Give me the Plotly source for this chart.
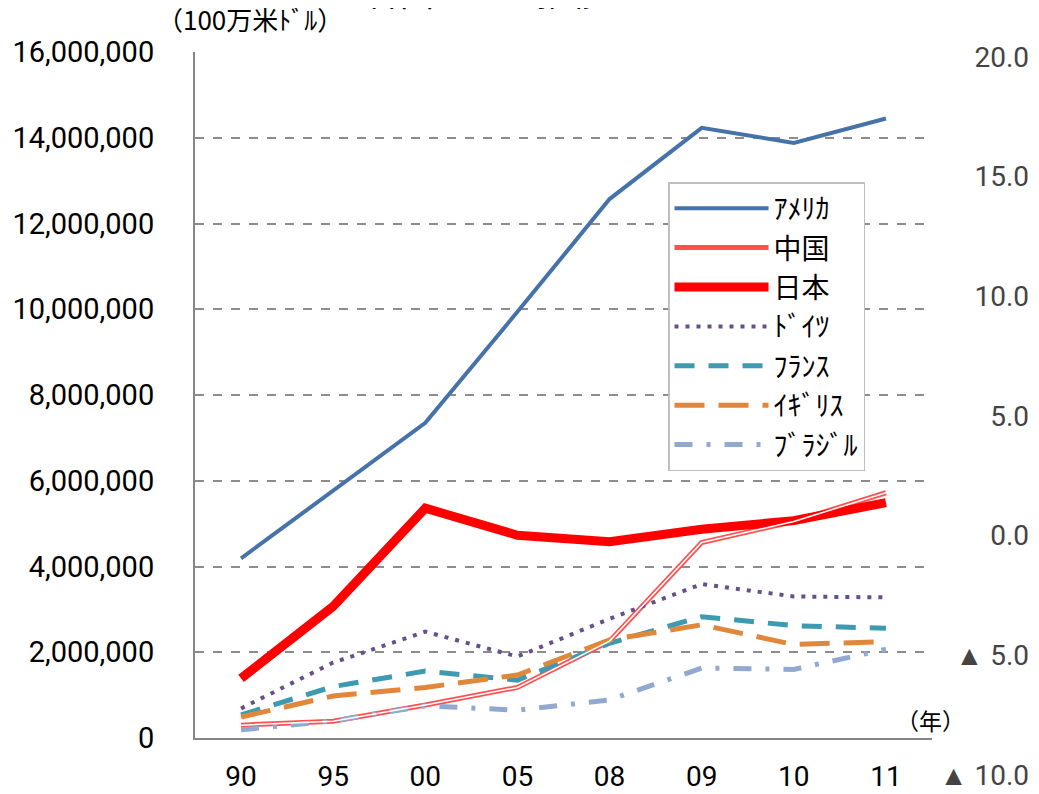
import plotly.graph_objects as go

years = ["90", "95", "00", "05", "08", "09", "10", "11"]
usa = [4190000, 5780000, 7350000, 9940000, 12570000, 14230000, 13880000, 14450000]
china = [300000, 390000, 770000, 1180000, 2260000, 4560000, 5050000, 5720000]
japan = [1390000, 3070000, 5360000, 4730000, 4580000, 4870000, 5070000, 5490000]
germany = [690000, 1760000, 2480000, 1900000, 2780000, 3590000, 3300000, 3280000]
france = [540000, 1200000, 1560000, 1350000, 2210000, 2830000, 2620000, 2560000]
uk = [490000, 980000, 1180000, 1470000, 2290000, 2640000, 2180000, 2250000]
brazil = [190000, 400000, 750000, 650000, 890000, 1630000, 1600000, 2070000]

right_vals = [20, 15, 10, 5, 0, -5, -10]
right_text = ["20.0", "15.0", "10.0", "5.0", "0.0", "▲ 5.0", "▲ 10.0"]

title_text = "各国GDPの推移"
unit_text = "（100万米ﾄﾞﾙ）"
year_text = "（年）"

# the page body adds an 8px offset; work in page pixels and convert
OFF = 8
W, H = 1039 - OFF, 794 - OFF
PL, PR, PT, PB = 195, 1032, 52, 775          # plot area in page pixels
L, T = PL - OFF, PT - OFF
R = W - (PR - OFF)
B = H - (PB - OFF)
pw = PR - PL
ph = PB - PT


def px(xp):
    return (xp - PL) / pw


def py(yp):
    return (PB - yp) / ph


fig = go.Figure()

fig.add_trace(go.Scatter(x=years, y=usa, name="ｱﾒﾘｶ", mode="lines",
                         line=dict(color="#4672AA", width=4)))
fig.add_trace(go.Scatter(x=years, y=china, name="中国", mode="lines",
                         line=dict(color="#FF5050", width=5)))
fig.add_trace(go.Scatter(x=years, y=japan, name="日本", mode="lines",
                         line=dict(color="#FF0000", width=9)))
fig.add_trace(go.Scatter(x=years, y=germany, name="ﾄﾞｲﾂ", mode="lines",
                         line=dict(color="#674F8A", width=4, dash="4px,7px")))
fig.add_trace(go.Scatter(x=years, y=france, name="ﾌﾗﾝｽ", mode="lines",
                         line=dict(color="#3E9AB0", width=5, dash="20px,14px")))
fig.add_trace(go.Scatter(x=years, y=uk, name="ｲｷﾞﾘｽ", mode="lines",
                         line=dict(color="#E0873B", width=5, dash="30px,14px")))
fig.add_trace(go.Scatter(x=years, y=brazil, name="ﾌﾞﾗｼﾞﾙ", mode="lines",
                         line=dict(color="#91A8D0", width=5, dash="18px,14px,4px,14px")))
# inner white stroke of China's double line
fig.add_trace(go.Scatter(x=years, y=china, name="中国", mode="lines", showlegend=False,
                         line=dict(color="#FFFFFF", width=1.5), hoverinfo="skip"))
# invisible trace binding the right-hand axis
fig.add_trace(go.Scatter(x=[0.5], y=[0], xaxis="x2", yaxis="y2", mode="markers",
                         marker=dict(opacity=0), showlegend=False, hoverinfo="skip"))

fig.update_layout(
    template="none",
    width=W, height=H,
    margin=dict(l=L, r=R, t=T, b=B),
    paper_bgcolor="white", plot_bgcolor="rgba(0,0,0,0)",
    font=dict(family="Roboto, 'Noto Sans CJK JP'", color="#000000", size=29),
    showlegend=True,
    xaxis=dict(domain=[0, px(932)], anchor="y", type="category", range=[-0.5, 7.5],
               showline=True, linecolor="#868686", linewidth=2, ticks="",
               showgrid=False, zeroline=False, automargin=False, ticklabelstandoff=12,
               tickfont=dict(size=28, family="Roboto")),
    yaxis=dict(domain=[py(738), 1], anchor="x", range=[0, 16000000], dtick=2000000,
               tickformat=",d", showline=True, linecolor="#868686", linewidth=2,
               showgrid=True, gridcolor="#8C8C8C", gridwidth=1.5, griddash="dash",
               zeroline=False, ticks="", automargin=False, ticklabelstandoff=33,
               tickfont=dict(size=29, family="Roboto")),
    xaxis2=dict(domain=[0, 1], anchor="y2", range=[0, 1], visible=False,
                automargin=False),
    yaxis2=dict(domain=[0, py(57)], anchor="x2", range=[-10, 20],
                side="right", tickmode="array", tickvals=right_vals, ticktext=right_text,
                ticklabelposition="inside", ticklabeloverflow="allow",
                showgrid=False, showline=False, zeroline=False, ticks="",
                automargin=False, tickfont=dict(size=28, family="Roboto")),
    legend=dict(x=px(668), y=py(182), xanchor="left", yanchor="top",
                bordercolor="#BFBFBF", borderwidth=1.5, bgcolor="white",
                font=dict(size=28, family="Noto Sans CJK JP"),
                itemwidth=94, tracegroupgap=0),
    annotations=[
        dict(text=title_text, xref="paper", yref="paper",
             x=px(485), y=py(-9), xanchor="center", yanchor="middle",
             showarrow=False, font=dict(size=34, family="Noto Sans CJK JP", color="#000000")),
        dict(text=unit_text, xref="paper", yref="paper",
             x=px(250), y=py(19), xanchor="center", yanchor="middle",
             showarrow=False, font=dict(size=26, family="Noto Sans CJK JP")),
        dict(text=year_text, xref="paper", yref="paper",
             x=px(930), y=py(720), xanchor="center", yanchor="middle",
             showarrow=False, font=dict(size=23, family="Noto Sans CJK JP")),
    ],
)

fig.write_html("out.html")
